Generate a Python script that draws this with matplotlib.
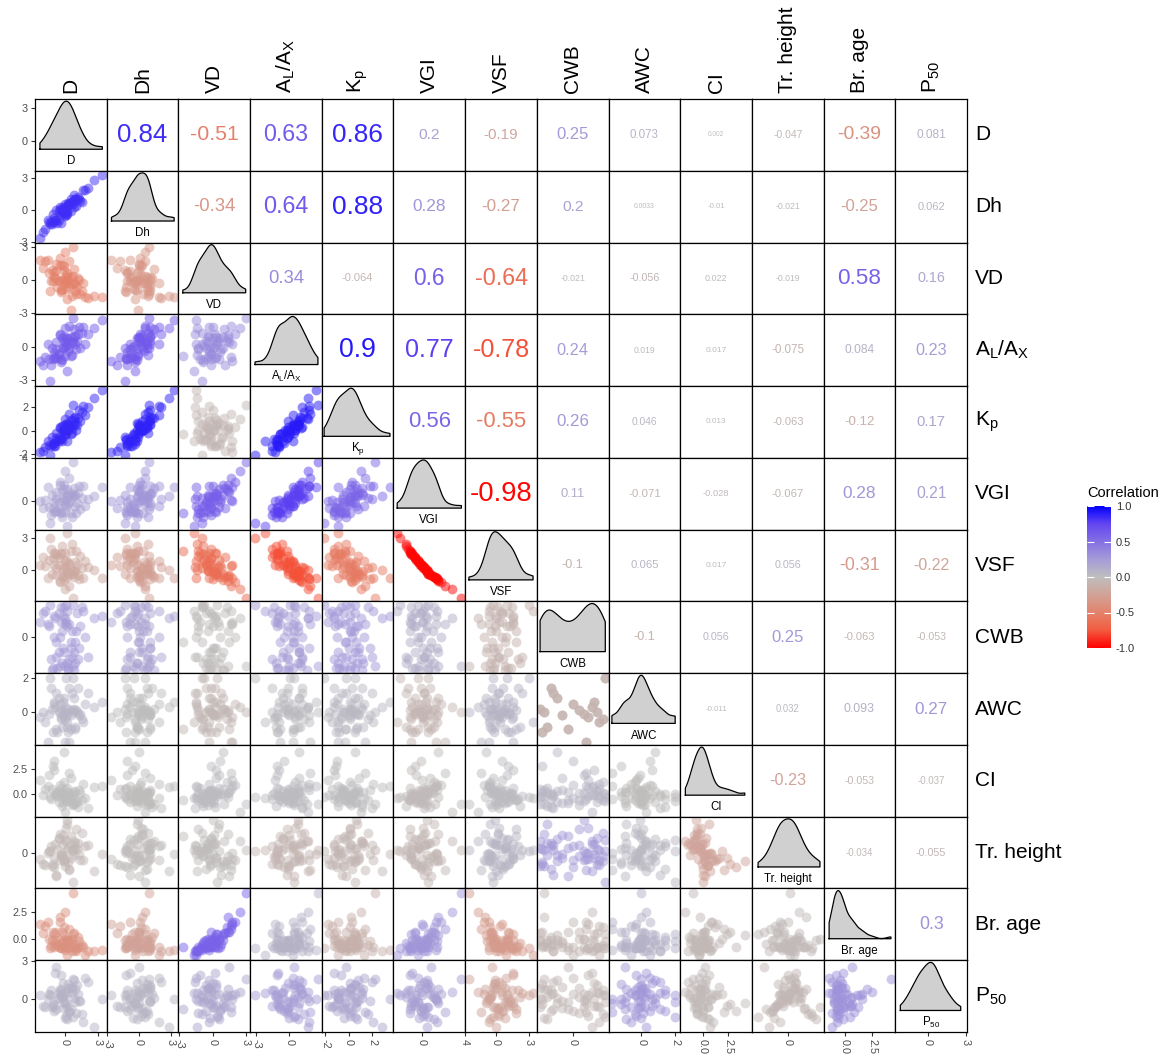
import numpy as np
import matplotlib
matplotlib.use("Agg")
import matplotlib.pyplot as plt
from matplotlib.colors import LinearSegmentedColormap, Normalize
from matplotlib.cm import ScalarMappable

plt.rcParams['font.family'] = ['Liberation Sans', 'DejaVu Sans']
plt.rcParams['mathtext.fontset'] = 'custom'
plt.rcParams['mathtext.rm'] = 'Liberation Sans'
plt.rcParams['mathtext.default'] = 'regular'
plt.rcParams['axes.unicode_minus'] = False

# ---- variables (standardised values, one entry per tree) ----
labels = ['D', 'Dh', 'VD', r'A$_\mathregular{L}$/A$_\mathregular{X}$', r'K$_\mathregular{p}$',
          'VGI', 'VSF', 'CWB', 'AWC', 'CI', 'Tr. height', 'Br. age', r'P$_\mathregular{50}$']

d = [0.3, -1.2, 0.8, -0.4, 1.5, -0.1, 0.6, -0.8, 2.1, -1.6,
     0.0, 0.4, -0.6, 1.1, -2.0, 0.2, -0.3, 0.9, -1.0, 1.8,
     -0.5, 0.1, 0.7, -1.4, 0.5, -0.2, 1.3, -0.9, 0.0, 2.6,
     -0.7, 0.3, -1.1, 1.0, -0.3, 0.6, -1.8, 0.2, 1.6, -0.6,
     0.8, -0.1, -1.3, 0.4, 1.2, -0.4, 0.1, -2.3, 0.9, -0.8,
     0.5, 3.4, -0.2, -1.0, 0.7, 0.0, -0.5, 1.4, -1.5, 0.2]
dh = [0.5, -1.3, 1.4, -0.4, 0.8, 0.2, 0.8, -0.9, 2.1, -0.9,
      -0.4, 0.6, -0.1, 1.0, -2.1, -0.2, -0.2, 1.0, -1.1, 1.9,
      0.1, -0.5, 0.6, -1.3, 1.0, 0.3, 1.0, -0.9, 0.6, 2.8,
      -1.2, 0.7, -0.4, 0.4, 0.0, 0.7, -1.8, -0.4, 1.9, -0.9,
      0.3, 0.0, -1.1, 0.7, 1.2, -1.2, 0.2, -2.6, 1.0, 0.0,
      -0.1, 3.3, -0.2, -0.7, 0.9, -0.6, 0.3, 0.9, -1.1, -0.1]
vd = [-0.3, 0.9, 1.0, -0.9, -1.0, 1.3, -1.4, 0.8, -1.6, 1.8,
      -0.3, 1.7, -0.1, -0.6, 1.1, 0.6, -0.9, -0.4, 0.7, -1.5,
      2.0, -0.8, 0.4, -1.0, 0.3, 0.1, 0.0, 0.2, 2.5, -1.4,
      -0.6, 0.3, -0.1, -1.3, 1.4, -0.4, 1.7, -1.7, -0.3, -0.1,
      -0.3, 0.9, -0.1, -0.6, 0.2, -1.1, 0.5, 1.8, -1.0, 1.5,
      -2.7, -1.5, 0.0, 0.3, 3.0, -0.2, 1.4, -1.3, 0.6, 0.0]
al_ax = [-0.4, -0.1, 1.6, -1.4, 1.3, 0.5, -0.7, -0.2, 1.2, 0.3,
         -0.8, 1.9, -0.6, 0.5, -1.6, 0.8, -1.2, 1.0, -0.5, 0.3,
         1.2, 0.1, 0.4, -3.1, 0.9, 0.0, 1.8, -1.0, 1.7, 1.7,
         -1.0, 0.3, -1.1, -0.2, 0.8, 0.4, -0.9, -2.2, 1.8, -0.6,
         0.9, 0.9, -1.6, -0.1, 1.2, -1.1, 0.5, -1.3, 0.3, 0.4,
         -0.8, 2.4, -0.1, -0.9, 2.6, 0.0, 1.1, -0.1, -1.1, 0.8]
kp = [0.1, -0.5, 1.1, -0.7, 1.6, 0.1, -0.2, -0.6, 2.0, -0.9,
      -0.3, 1.4, -0.5, 0.5, -1.7, 0.7, -0.9, 1.2, -1.0, 1.3,
      0.3, -0.2, 0.5, -2.1, 0.9, 0.0, 1.8, -1.3, 1.0, 2.8,
      -0.8, 0.5, -1.1, 0.1, 0.4, 0.2, -1.4, -0.9, 2.1, -0.9,
      0.8, 0.5, -1.3, 0.3, 1.1, -0.7, 0.1, -1.8, 0.6, -0.2,
      -0.3, 3.5, 0.1, -1.3, 2.2, -0.4, 0.2, 0.8, -1.2, 0.6]
vgi = [-0.3, 0.6, 1.2, -1.0, 0.3, 1.1, -1.5, 0.2, 0.2, 1.3,
       -1.0, 2.2, -0.1, -0.2, -0.6, 1.1, -1.5, 0.6, -0.1, -0.4,
       1.8, -0.4, 0.6, -2.0, 0.8, 0.1, 1.4, -0.9, 2.8, 0.5,
       -0.9, 0.6, -0.6, -1.1, 1.0, 0.4, 0.1, -2.3, 1.4, -0.6,
       0.5, 1.5, -1.3, -0.1, 0.8, -1.1, 0.1, 0.0, -0.4, 0.9,
       -1.1, 1.3, 0.4, -1.0, 3.7, -0.3, 1.5, -0.7, -0.5, 0.5]
vsf = [0.8, -0.3, -0.6, 1.5, 0.2, -0.6, 2.4, 0.2, 0.3, -0.7,
       1.6, -1.4, 0.5, 0.5, 1.2, -0.6, 2.2, -0.1, 0.5, 0.9,
       -1.1, 1.0, -0.3, 3.0, -0.3, 0.2, -0.8, 1.6, -1.7, 0.0,
       1.4, -0.2, 1.1, 1.8, -0.5, 0.0, 0.4, 3.4, -0.7, 1.1,
       -0.1, -0.9, 2.0, 0.6, -0.4, 1.6, 0.3, 0.5, 0.8, -0.4,
       1.8, -0.7, -0.1, 1.6, -2.5, 0.8, -1.0, 1.3, 1.0, -0.1]
# site level variables (3 trees per site)
cwb_site = [-1.5, 1.4, -0.9, 0.6, 1.1, -1.2, 0.0, 1.5, -0.5, 0.9,
            -1.4, 0.3, 1.2, -0.7, -1.0, 0.7, -0.2, 1.0, -1.3, 0.5]
awc_site = [0.2, -0.4, 1.1, -1.75, 0.0, -0.9, 0.5, 2.0, -0.2, 0.3,
            -1.2, 0.1, -0.6, 0.8, 1.4, -0.3, -1.0, 0.6, 0.0, -0.1]
trees_per_site = 3
ci = [-0.3, 0.5, -1.0, 0.1, -0.6, 1.2, -0.2, 0.0, -1.4, 0.8,
      -0.5, 2.1, 0.3, -0.8, -0.1, 0.6, -1.2, 0.2, 3.2, -0.4,
      0.9, -0.7, 0.0, -0.3, 1.6, -0.9, 0.4, -0.1, -1.7, 0.7,
      -0.2, 0.2, 2.7, -0.6, 0.1, -1.1, 0.5, -0.4, 1.0, -0.8,
      0.3, 4.1, -0.5, 0.0, -1.3, 0.6, -0.2, 1.4, -0.9, 0.2,
      -0.6, 0.8, -0.1, 2.4, -1.0, 0.4, -0.3, 0.1, 1.9, -0.7]
tr_height = [0.4, -1.1, 0.9, -0.3, 1.6, -0.7, 0.2, -1.8, 0.6, 0.0,
             -0.5, -1.4, 1.2, 0.3, -0.9, 2.3, -0.2, 0.8, -1.2, 0.5,
             -0.6, 1.0, -2.4, 0.1, -0.4, 1.4, -0.1, 0.7, 0.9, -1.5,
             0.3, -0.8, -0.9, 1.9, -0.3, 0.6, -1.0, 0.2, -0.6, 1.1,
             -0.2, -0.7, 0.5, -1.3, 0.8, 0.0, 2.0, -0.5, 0.4, -1.9,
             1.3, -0.1, 0.7, -0.4, 0.2, -1.1, 1.5, -0.6, 0.1, 2.6]
br_age = [-0.2, -0.1, 0.6, -0.8, -0.5, 1.1, -1.1, -0.4, -1.1, 1.6,
          -1.0, 0.9, -0.7, -0.8, 0.6, -0.1, -0.3, -0.7, -0.7, -1.4,
          1.6, -0.2, 0.5, -0.8, -0.3, -0.7, -0.2, -0.1, 2.5, -1.1,
          -0.5, -0.7, 0.7, -1.1, 0.7, 0.0, 1.2, -1.4, -0.7, -0.1,
          -0.4, 0.4, -0.6, -0.1, 0.2, -0.8, -0.8, 1.4, -1.0, 0.7,
          -0.7, -1.0, -0.2, 0.5, 4.2, -0.6, 2.0, -0.7, 0.0, 0.0]
p50 = [0.9, -0.6, 0.1, 0.7, -1.2, 0.3, 0.5, -0.8, 1.4, 0.0,
       -0.3, -1.0, 0.6, 1.1, -0.5, -1.6, 0.2, 0.8, -0.9, 1.7,
       0.4, -0.2, -1.4, 0.3, 1.0, -0.7, -0.1, 2.1, 0.6, -2.2,
       0.0, 1.2, -0.4, -1.1, 0.2, 0.9, -0.6, 0.5, -1.8, 0.1,
       1.5, -0.3, 0.7, -0.9, 0.4, 1.9, -1.3, 0.3, -0.2, 2.6,
       -0.8, 0.0, 1.3, -0.5, 1.6, -1.5, 0.8, -0.1, 0.4, -0.6]

cwb = np.repeat(cwb_site, trees_per_site)
awc = np.repeat(awc_site, trees_per_site)

# ---- Pearson correlations printed in the upper triangle (row by row) ----
corr_D = [0.84, -0.51, 0.63, 0.86, 0.2, -0.19, 0.25, 0.073, 0.002, -0.047, -0.39, 0.081]
corr_Dh = [-0.34, 0.64, 0.88, 0.28, -0.27, 0.2, 0.0033, -0.01, -0.021, -0.25, 0.062]
corr_VD = [0.34, -0.064, 0.6, -0.64, -0.021, -0.056, 0.022, -0.019, 0.58, 0.16]
corr_AL = [0.9, 0.77, -0.78, 0.24, 0.019, 0.017, -0.075, 0.084, 0.23]
corr_Kp = [0.56, -0.55, 0.26, 0.046, 0.013, -0.063, -0.12, 0.17]
corr_VGI = [-0.98, 0.11, -0.071, -0.028, -0.067, 0.28, 0.21]
corr_VSF = [-0.1, 0.065, 0.017, 0.056, -0.31, -0.22]
corr_CWB = [-0.1, 0.056, 0.25, -0.063, -0.053]
corr_AWC = [-0.011, 0.032, 0.093, 0.27]
corr_CI = [-0.23, -0.053, -0.037]
corr_Tr = [-0.034, -0.055]
corr_Br = [0.3]

data = [d, dh, vd, al_ax, kp, vgi, vsf, cwb, awc, ci, tr_height, br_age, p50]
data = [np.asarray(v, dtype=float) for v in data]
n = len(data)
corr_rows = [corr_D, corr_Dh, corr_VD, corr_AL, corr_Kp, corr_VGI, corr_VSF,
             corr_CWB, corr_AWC, corr_CI, corr_Tr, corr_Br]
R = np.eye(n)
for i, row in enumerate(corr_rows):
    for k, r in enumerate(row):
        R[i, i + 1 + k] = r
        R[i + 1 + k, i] = r

# axis ranges and ticks per variable
lims = [(-2.75, 3.8), (-3.05, 3.7), (-3.1, 3.4), (-3.55, 2.95), (-2.3, 3.8),
        (-2.65, 4.05), (-2.85, 3.75), (-1.65, 1.65), (-1.95, 2.3), (-2.2, 4.8),
        (-2.9, 2.9), (-1.9, 4.6), (-2.6, 3.1)]
ticks = [[-3, 0, 3], [-3, 0, 3], [-3, 0, 3], [-3, 0, 3], [-2, 0, 2],
         [0, 4], [0, 3], [0], [0, 2], [0, 2.5], [0], [0, 2.5], [0, 3]]
ticks = [[t for t in tk if lo <= t <= hi] for tk, (lo, hi) in zip(ticks, lims)]
tick_fmt = ['{:g}'] * 9 + ['{:.1f}', '{:g}', '{:.1f}', '{:g}']

cmap = LinearSegmentedColormap.from_list('corr', [
    (0.0, '#FF0000'), (0.125, '#F25C40'), (0.25, '#E3836C'), (0.375, '#D1A297'),
    (0.5, '#BEBEBE'), (0.625, '#A59BD7'), (0.75, '#8470E4'), (0.875, '#6446F0'),
    (1.0, '#0000FF')])
norm = Normalize(-1, 1)


def kde(x, grid):
    sd = x.std(ddof=1)
    q75, q25 = np.percentile(x, [75, 25])
    bw = 0.9 * min(sd, (q75 - q25) / 1.34) * len(x) ** -0.2
    z = (grid[:, None] - x[None, :]) / bw
    return np.exp(-0.5 * z ** 2).sum(1) / (len(x) * bw * np.sqrt(2 * np.pi))


fig = plt.figure(figsize=(11.66, 10.56), dpi=100)
W, H = 1166, 1056
left, right = 35 / W, 967 / W
bottom, top = 1 - 1032 / H, 1 - 99 / H
cw = (right - left) / n
ch = (top - bottom) / n
grey_txt = '#4D4D4D'

for i in range(n):
    for j in range(n):
        ax = fig.add_axes([left + j * cw, top - (i + 1) * ch, cw, ch])
        ax.set_xlim(lims[j])
        ax.set_ylim(lims[i])
        for s in ax.spines.values():
            s.set_linewidth(0.9)
            s.set_color('black')
        if i > j:
            ax.scatter(data[j], data[i], s=50, color=cmap(norm(R[i, j])),
                       alpha=0.5, linewidths=0)
        elif i == j:
            x = data[i]
            lo, hi = lims[i]
            grid = np.linspace(x.min(), x.max(), 300)
            dens = kde(x, grid)
            base = lo + 0.30 * (hi - lo)
            yv = base + (dens / dens.max()) * 0.67 * (hi - lo)
            ax.fill_between(grid, base, yv, color='#D0D0D0', lw=0)
            px = np.concatenate([[grid[0]], grid, [grid[-1], grid[0]]])
            py = np.concatenate([[base], yv, [base, base]])
            ax.plot(px, py, color='black', lw=0.9)
            ax.text(0.5, 0.13, labels[i], transform=ax.transAxes, ha='center',
                    va='center', fontsize=8.3)
        else:
            r = R[i, j]
            ax.text(0.5, 0.5, '{:g}'.format(r), transform=ax.transAxes,
                    ha='center', va='center', color=cmap(norm(r)),
                    fontsize=4 + 16 * np.sqrt(abs(r)))
        ax.set_xticks(ticks[j])
        ax.set_yticks(ticks[i])
        ax.tick_params(left=False, bottom=False, labelleft=False, labelbottom=False)
        if j == 0:
            ax.set_yticklabels([tick_fmt[i].format(t) for t in ticks[i]])
            ax.tick_params(axis='y', left=True, labelleft=True, length=3, width=0.8,
                           color='#333333', labelcolor=grey_txt, labelsize=7.8, pad=2)
        if i == n - 1:
            ax.set_xticklabels([tick_fmt[j].format(t) for t in ticks[j]], rotation=-90)
            ax.tick_params(axis='x', bottom=True, labelbottom=True, length=3, width=0.8,
                           color='#333333', labelcolor=grey_txt, labelsize=7.8, pad=2)

# column headers and row labels
for k in range(n):
    fig.text(left + (k + 0.5) * cw, top + 6 / H, labels[k], rotation=90,
             ha='center', va='bottom', fontsize=15)
    fig.text(right + 8 / W, top - (k + 0.5) * ch, labels[k], ha='left',
             va='center', fontsize=15)

# colour bar legend
cax = fig.add_axes([1087 / W, 1 - 648 / H, 24 / W, 142 / H])
cb = fig.colorbar(ScalarMappable(norm=norm, cmap=cmap), cax=cax)
cb.outline.set_visible(False)
cb.set_ticks([-1, -0.5, 0, 0.5, 1])
cb.set_ticklabels(['-1.0', '-0.5', '0.0', '0.5', '1.0'])
cax.yaxis.set_ticks_position('both')
cax.tick_params(axis='y', direction='in', length=5, width=0.8, color='white',
                labelcolor='#333333', labelsize=8, labelleft=False, labelright=True)
fig.text(1087 / W, 1 - 493 / H, 'Correlation', ha='left', va='center', fontsize=10.5)

fig.savefig('out.png', dpi=100)
